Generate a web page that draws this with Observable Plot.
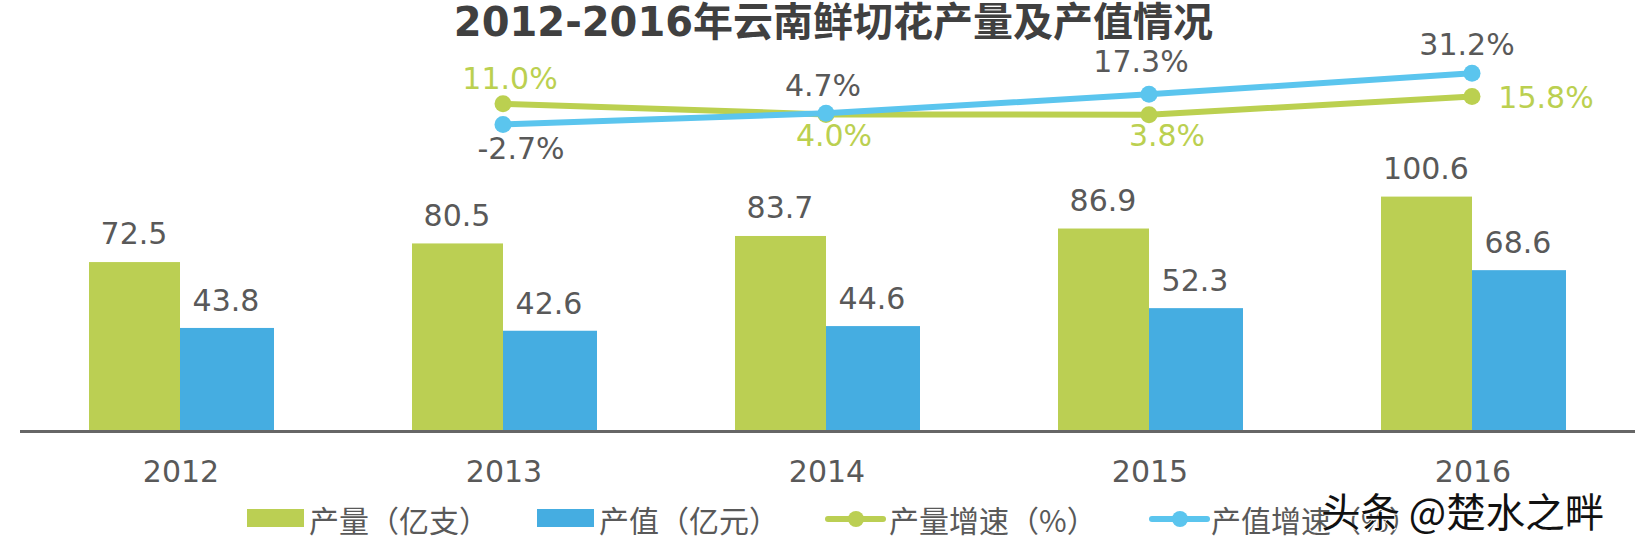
<!DOCTYPE html>
<html lang="zh">
<head>
<meta charset="utf-8">
<script src="https://cdn.jsdelivr.net/npm/d3@7"></script>
<script src="https://cdn.jsdelivr.net/npm/@observablehq/plot@0.6"></script>
<style>
html,body{margin:0;padding:0;background:#fff;overflow:hidden;width:1638px;height:546px}
body{position:relative;font-family:"DejaVu Sans","Noto Sans CJK SC",sans-serif}
#title{height:30px;line-height:44px;font-size:40px;font-weight:700;color:#404040;text-align:center;padding-left:29px;white-space:nowrap}
#chart svg{display:block;background:transparent;overflow:visible}
#legend{position:relative;height:51px;font-size:30px;color:#595959}
#legend>*{position:absolute}
.sw{height:18px;width:57px;top:14px}
.ln{height:6px;width:61px;top:21px;border-radius:3px}
.dt{height:16px;width:16px;top:16px;border-radius:50%}
.lb{top:3px;line-height:42px;white-space:nowrap;font-family:"Noto Sans CJK SC",sans-serif}
#mark{position:absolute;left:1321px;top:485px;font-size:39.5px;line-height:50px;color:#111;white-space:nowrap;font-family:"Noto Sans CJK SC",sans-serif;text-shadow:1px 1px 0 #fff,-1px 0 0 #fff}
</style>
</head>
<body>
<div id="title">2012-2016年云南鲜切花产量及产值情况</div>
<div id="chart"></div>
<div id="legend">
  <div class="sw" style="left:247px;background:#BBCF53"></div><div class="lb" style="left:309px">产量（亿支）</div>
  <div class="sw" style="left:537px;background:#45ADE1"></div><div class="lb" style="left:599px">产值（亿元）</div>
  <div class="ln" style="left:825px;background:#BBCF53"></div><div class="dt" style="left:848px;background:#BBCF53"></div><div class="lb" style="left:889px">产量增速（%）</div>
  <div class="ln" style="left:1149px;background:#5BC5EE"></div><div class="dt" style="left:1172px;background:#5BC5EE"></div><div class="lb" style="left:1211px">产值增速（%）</div>
</div>
<div id="mark">头条 @楚水之畔</div>
<script>
const years = ["2012","2013","2014","2015","2016"];
const output = [72.5,80.5,83.7,86.9,100.6];
const value = [43.8,42.6,44.6,52.3,68.6];
const rateYears = ["2013","2014","2015","2016"];
const outputRate = [11.0,4.0,3.8,15.8];
const valueRate = [-2.7,4.7,17.3,31.2];

const GREEN="#BBCF53", BLUE="#45ADE1", LGREEN="#BBD050", LBLUE="#5BC5EE", GREY="#595959";
const FONT='"DejaVu Sans","Noto Sans CJK SC",sans-serif';

// growth rates sit on their own (hidden) secondary scale above the bars
const rateOnBarScale = r => 133.5 + r * 0.648;
const table = (xs, vs) => xs.map((x,i)=>({x, v:vs[i], y:rateOnBarScale(vs[i])}));
const gOut = years.map((x,i)=>({x, v:output[i]}));
const gVal = years.map((x,i)=>({x, v:value[i]}));
const rOut = table(rateYears, outputRate);
const rVal = table(rateYears, valueRate);

// per-label nudges [dx, dy]
const outOffsets = [[5,-24],[6,22],[16,22],[72,2]];
const valOffsets = [[16,25],[-5,-27],[-10,-32],[-7,-28]];
const pct = d => d.v.toFixed(1)+"%";
const rateLabels = (rows, offs, fill) => rows.map((d,i)=>Plot.text([d],{x:"x",y:"y",text:pct,fill,fontSize:30,dx:offs[i][0],dy:offs[i][1],fontFamily:FONT}));

const plot = Plot.plot({
  width:1638, height:465,
  marginTop:0, marginBottom:64, marginLeft:20, marginRight:3,
  style:{background:"transparent",fontFamily:FONT,overflow:"visible"},
  x:{domain:years,type:"band",padding:0,label:null},
  y:{domain:[0,172.1],axis:null,label:null},
  marks:[
    Plot.barY(gOut,{x:"x",y:"v",fill:GREEN,insetLeft:69,insetRight:163}),
    Plot.barY(gVal,{x:"x",y:"v",fill:BLUE,insetLeft:160,insetRight:69,insetTop:-1}),
    Plot.ruleY([0],{stroke:"#666",strokeWidth:3}),
    Plot.axisX({anchor:"bottom",tickSize:0,tickPadding:41,fontSize:30,fill:GREY,color:GREY,label:null,lineAnchor:"middle",dx:-1}),
    Plot.text(gOut,{x:"x",y:"v",text:d=>d.v.toFixed(1),fill:GREY,fontSize:30,dx:-48,dy:-28,fontFamily:FONT}),
    Plot.text(gVal,{x:"x",y:"v",text:d=>d.v.toFixed(1),fill:GREY,fontSize:30,dx:44,dy:-28,fontFamily:FONT}),
    Plot.line(rOut,{x:"x",y:"y",stroke:LGREEN,strokeWidth:6,dx:-2}),
    Plot.dot(rOut,{x:"x",y:"y",fill:LGREEN,r:8.5,dx:-2}),
    Plot.line(rVal,{x:"x",y:"y",stroke:LBLUE,strokeWidth:6,dx:-2}),
    Plot.dot(rVal,{x:"x",y:"y",fill:LBLUE,r:8.5,dx:-2}),
    ...rateLabels(rOut,outOffsets,LGREEN),
    ...rateLabels(rVal,valOffsets,GREY)
  ]
});
document.getElementById("chart").appendChild(plot);
</script>
</body>
</html>
